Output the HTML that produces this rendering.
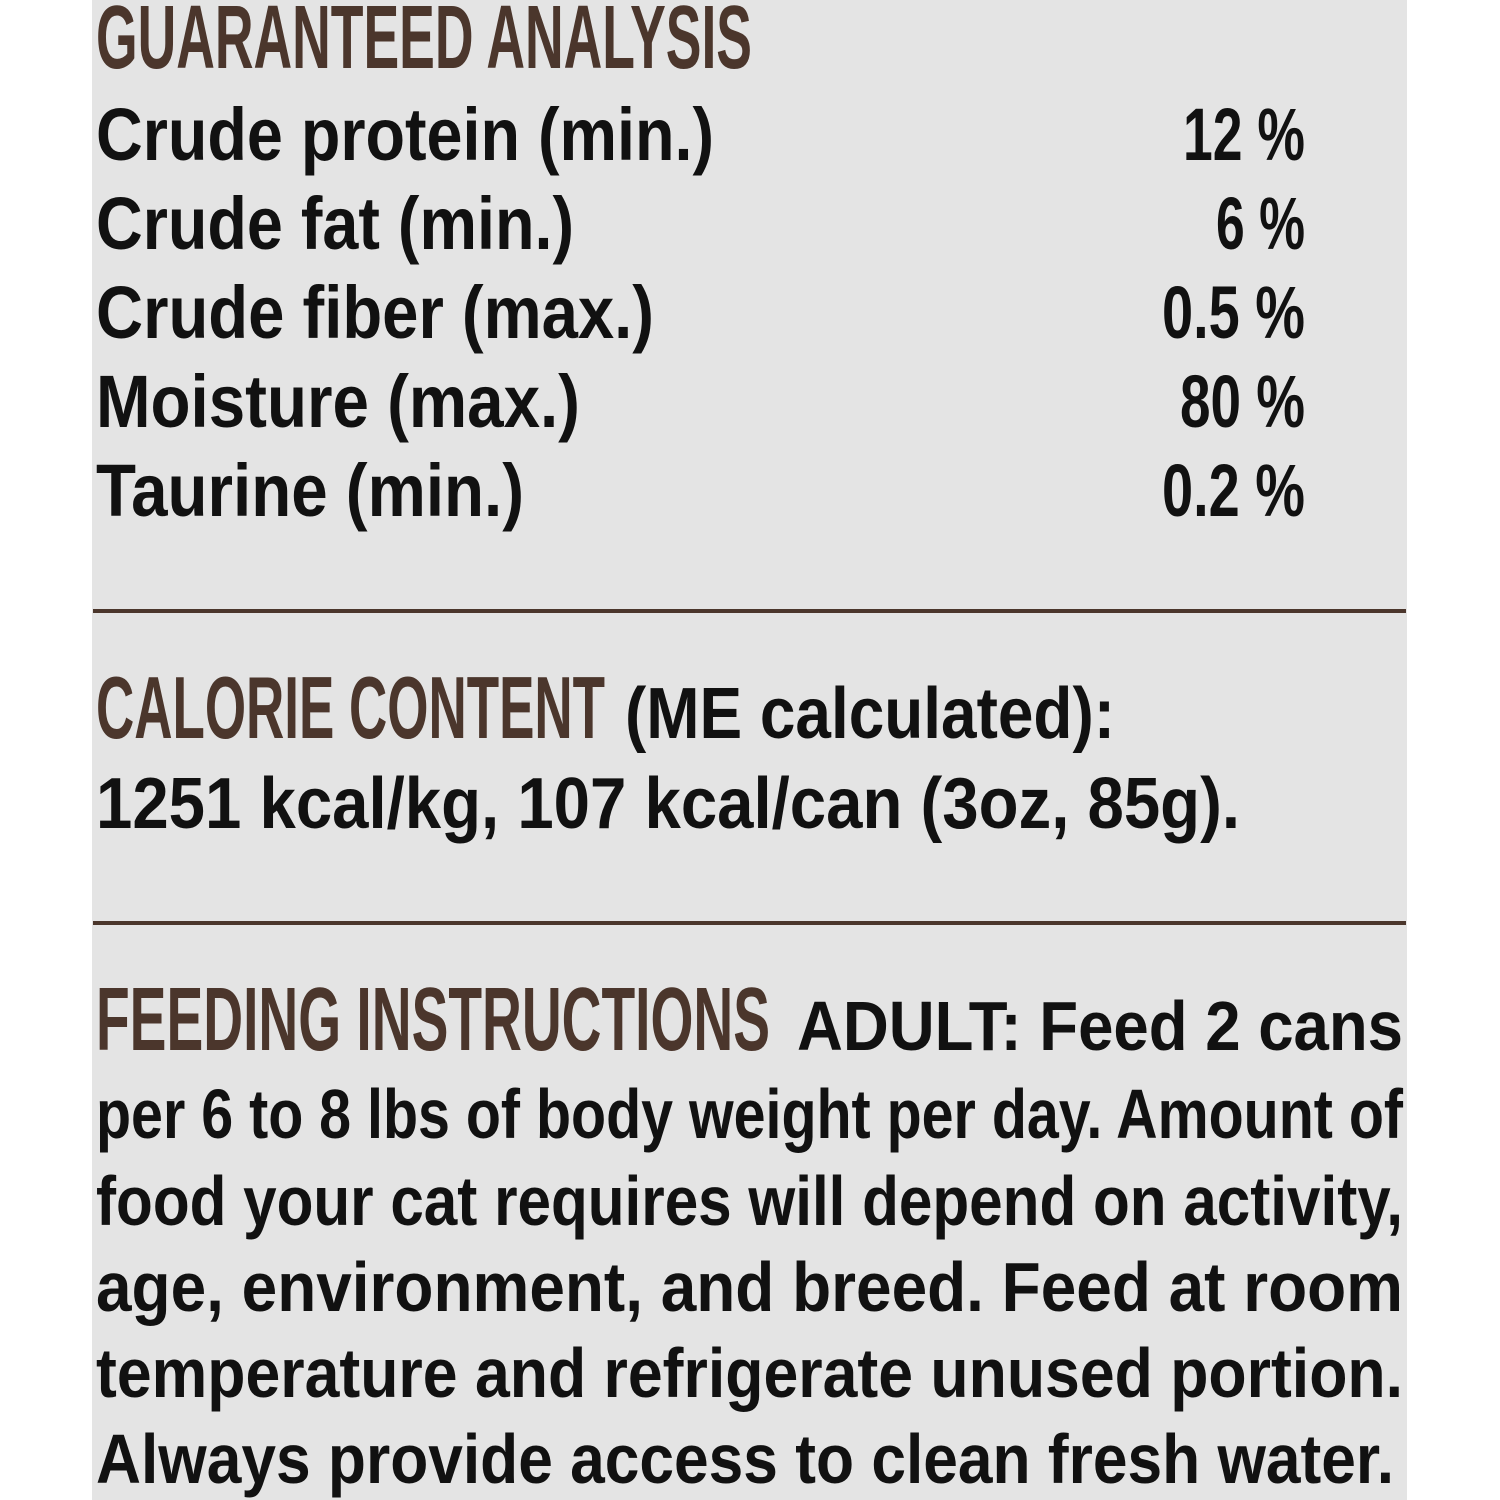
<!DOCTYPE html>
<html><head><meta charset="utf-8"><style>
html,body{margin:0;padding:0;background:#fff;width:1500px;height:1500px;overflow:hidden}
svg{display:block}
.h{font-family:"Liberation Sans Narrow","Liberation Sans",sans-serif;font-weight:bold;fill:#4b362c}
.t{font-family:"Liberation Sans",sans-serif;font-weight:bold;fill:#111}
</style></head><body>
<svg width="1500" height="1500" viewBox="0 0 1500 1500">
<rect x="92" y="0" width="1315" height="1500" fill="#e4e4e4"/>
<text class="h" x="96" y="68" font-size="90" textLength="656" lengthAdjust="spacingAndGlyphs">GUARANTEED ANALYSIS</text>
<g class="t" font-size="74">
<text x="96" y="160" textLength="618" lengthAdjust="spacingAndGlyphs">Crude protein (min.)</text>
<text x="96" y="249" textLength="478" lengthAdjust="spacingAndGlyphs">Crude fat (min.)</text>
<text x="96" y="338" textLength="558" lengthAdjust="spacingAndGlyphs">Crude fiber (max.)</text>
<text x="96" y="427" textLength="484" lengthAdjust="spacingAndGlyphs">Moisture (max.)</text>
<text x="96" y="516" textLength="428" lengthAdjust="spacingAndGlyphs">Taurine (min.)</text>
<text x="1183" y="160" textLength="122" lengthAdjust="spacingAndGlyphs">12 %</text>
<text x="1216" y="249" textLength="89" lengthAdjust="spacingAndGlyphs">6 %</text>
<text x="1162" y="338" textLength="143" lengthAdjust="spacingAndGlyphs">0.5 %</text>
<text x="1180" y="427" textLength="125" lengthAdjust="spacingAndGlyphs">80 %</text>
<text x="1162" y="516" textLength="143" lengthAdjust="spacingAndGlyphs">0.2 %</text>
</g>
<rect x="93" y="609" width="1313" height="4" fill="#4b362c"/>
<text class="h" x="96" y="738" font-size="88" textLength="509" lengthAdjust="spacingAndGlyphs">CALORIE CONTENT</text>
<g class="t" font-size="72">
<text x="625" y="738" textLength="490" lengthAdjust="spacingAndGlyphs">(ME calculated):</text>
<text x="96" y="828" textLength="1144" lengthAdjust="spacingAndGlyphs">1251 kcal/kg, 107 kcal/can (3oz, 85g).</text>
</g>
<rect x="93" y="921" width="1313" height="4" fill="#4b362c"/>
<text class="h" x="96" y="1050" font-size="90" textLength="674" lengthAdjust="spacingAndGlyphs">FEEDING INSTRUCTIONS</text>
<g class="t" font-size="70">
<text x="797" y="1050" textLength="606" lengthAdjust="spacingAndGlyphs">ADULT: Feed 2 cans</text>
<text x="96" y="1138" textLength="1307" lengthAdjust="spacingAndGlyphs">per 6 to 8 lbs of body weight per day. Amount of</text>
<text x="96" y="1225" textLength="1307" lengthAdjust="spacingAndGlyphs">food your cat requires will depend on activity,</text>
<text x="96" y="1311" textLength="1307" lengthAdjust="spacingAndGlyphs">age, environment, and breed. Feed at room</text>
<text x="96" y="1397" textLength="1307" lengthAdjust="spacingAndGlyphs">temperature and refrigerate unused portion.</text>
<text x="96" y="1483" textLength="1298" lengthAdjust="spacingAndGlyphs">Always provide access to clean fresh water.</text>
</g>
</svg>
</body></html>
